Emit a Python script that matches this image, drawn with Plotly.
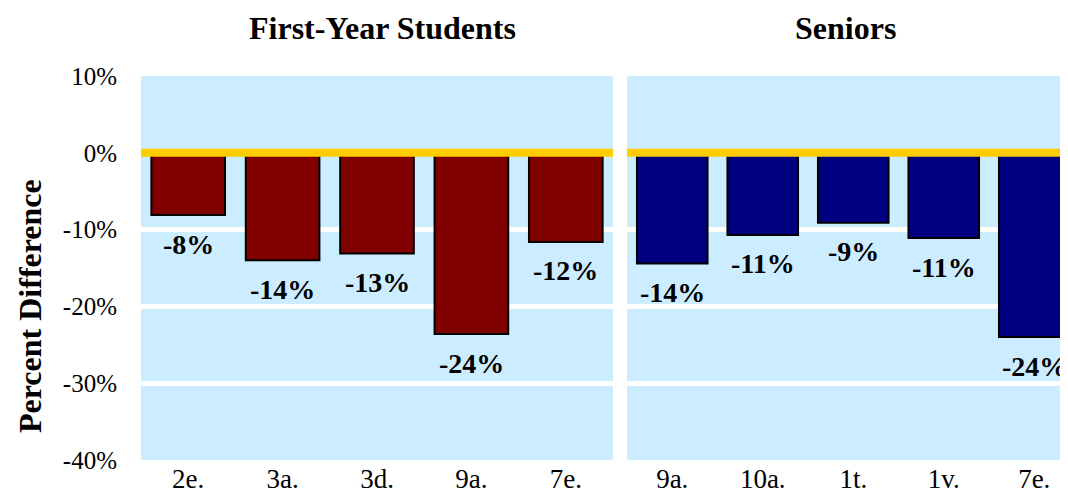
import plotly.graph_objects as go

# ---- data ----
first_year_cats = ["2e.", "3a.", "3d.", "9a.", "7e."]
first_year_vals = [-8.1, -14.0, -13.1, -23.6, -11.6]
senior_cats = ["9a.", "10a.", "1t.", "1v.", "7e."]
senior_vals = [-14.4, -10.7, -9.1, -11.1, -24.0]
panel_titles = ["First-Year Students", "Seniors"]
y_ticks = [10, 0, -10, -20, -30, -40]
y_ticktext = ["10%", "0%", "-10%", "-20%", "-30%", "-40%"]
y_title = "Percent Difference"

W, H = 1068, 500
OFF = 8  # page body margin offset
FONT = "Liberation Serif, Times New Roman, serif"
BG = "#CCECFF"


def px_x(x):
    return (x - OFF) / W


def px_y(y):
    return 1 - (y - OFF) / H


fig = go.Figure()
fig.add_trace(go.Bar(x=list(range(len(first_year_cats))), y=first_year_vals,
                     marker=dict(color="#800000", line=dict(color="black", width=2)),
                     xaxis="x", yaxis="y", showlegend=False, hoverinfo="skip"))
fig.add_trace(go.Bar(x=list(range(len(senior_cats))), y=senior_vals,
                     marker=dict(color="#000080", line=dict(color="black", width=2)),
                     xaxis="x2", yaxis="y2", showlegend=False, hoverinfo="skip"))

left_dom = [px_x(141), px_x(613)]
right_dom = [px_x(627), 1.0]
# right panel category spacing ~90.5 px; last bar is clipped by the edge
right_span = (W - (627 - OFF)) / 90.5
ydom = [px_y(460), px_y(76)]

common_y = dict(range=[-40, 10], tickmode="array", tickvals=y_ticks, ticktext=y_ticktext,
                showgrid=True, gridcolor="white", gridwidth=5, automargin=False,
                zeroline=False, showline=False, domain=ydom)

xtick_common = dict(tickmode="array", tickvals=list(range(5)), showgrid=False, zeroline=False,
                    automargin=False, ticks="",
                    tickfont=dict(size=27, family=FONT))

fig.update_layout(
    width=W, height=H,
    margin=dict(l=0, r=0, t=0, b=0, pad=0, autoexpand=False),
    paper_bgcolor="white", plot_bgcolor=BG,
    bargap=0.22,
    font=dict(family=FONT, color="black", size=24),
    xaxis=dict(domain=left_dom, range=[-0.5, 4.5], ticktext=first_year_cats, **xtick_common),
    xaxis2=dict(domain=right_dom, range=[-0.5, -0.5 + right_span], ticktext=senior_cats,
                anchor="y2", **xtick_common),
    yaxis=dict(**common_y, ticks="outside", ticklen=18, tickcolor="rgba(0,0,0,0)",
               tickfont=dict(size=25, family=FONT)),
    yaxis2=dict(**common_y, anchor="x2", showticklabels=False),
)

# zero lines (yellow)
for xr, yr in [("x", "y"), ("x2", "y2")]:
    fig.add_shape(type="line", xref=f"{xr} domain", yref=yr, x0=0, x1=1, y0=0, y1=0,
                  line=dict(color="#FFCC00", width=8), layer="above")

annotations = []
for i, v in enumerate(first_year_vals):
    annotations.append(dict(x=i, y=v, xref="x", yref="y", text=f"<b>{round(v):d}%</b>",
                            showarrow=False, xanchor="center", yanchor="middle", yshift=-29,
                            font=dict(size=28, family=FONT, color="black")))
for i, v in enumerate(senior_vals):
    annotations.append(dict(x=i, y=v, xref="x2", yref="y2", text=f"<b>{round(v):d}%</b>",
                            showarrow=False, xanchor="center", yanchor="middle", yshift=-29,
                            font=dict(size=28, family=FONT, color="black")))
for title, cx in zip(panel_titles, [382.5, 845.5]):
    annotations.append(dict(x=px_x(cx), y=px_y(28), xref="paper", yref="paper",
                            text=f"<b>{title}</b>", showarrow=False,
                            xanchor="center", yanchor="middle",
                            font=dict(size=32, family=FONT, color="black")))
annotations.append(dict(x=px_x(30), y=px_y(306), xref="paper", yref="paper",
                        text=f"<b>{y_title}</b>", showarrow=False, textangle=-90,
                        xanchor="center", yanchor="middle",
                        font=dict(size=32, family=FONT, color="black")))
fig.update_layout(annotations=annotations)

fig.write_html("out.html")
